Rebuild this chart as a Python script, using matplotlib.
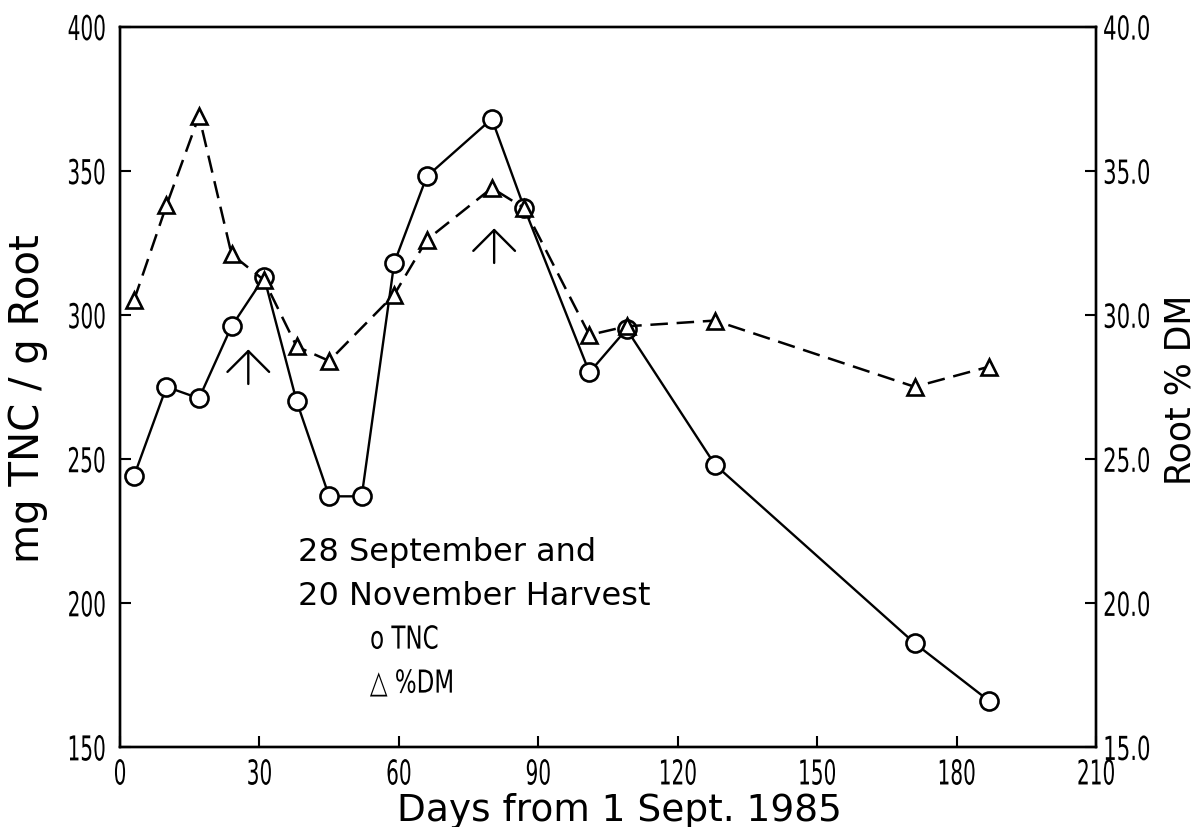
import matplotlib
matplotlib.use("Agg")
import matplotlib.pyplot as plt
from matplotlib.patheffects import AbstractPathEffect
from matplotlib.transforms import Affine2D

# ---- data ----
tnc_days = [3, 10, 17, 24, 31, 38, 45, 52, 59, 66, 80, 87, 101, 109, 128, 171, 187]
tnc_vals = [244, 275, 271, 296, 313, 270, 237, 237, 318, 348, 368, 337, 280, 295, 248, 186, 166]

dm_days = [3, 10, 17, 24, 31, 38, 45, 59, 66, 80, 87, 101, 109, 128, 171, 187]
dm_vals = [30.5, 33.8, 36.9, 32.1, 31.2, 28.9, 28.4, 30.7, 32.6, 34.4, 33.7, 29.3, 29.6, 29.8, 27.5, 28.2]

x_ticks = [0, 30, 60, 90, 120, 150, 180, 210]
left_ticks = [150, 200, 250, 300, 350, 400]
right_ticks = [15, 20, 25, 30, 35, 40]
right_tick_labels = ["15.0", "20.0", "25.0", "30.0", "35.0", "40.0"]

# harvest arrows (day, base value, tip value on TNC scale)
arrow_days = [27.6, 80.5]
arrow_base = [276, 318]
arrow_tip = [288, 330]

title_lines = ["28 September and", "20 November Harvest"]
legend_labels = ["o TNC", "\u25B3 %DM"]


class Squeeze(AbstractPathEffect):
    """Draw text with plotter-style proportions (narrow, tall digits)."""

    def __init__(self, sx=0.6, sy=1.0, anchor="center"):
        super().__init__()
        self.sx = sx
        self.sy = sy
        self.anchor = anchor

    def draw_path(self, renderer, gc, tpath, affine, rgbFace=None):
        ext = tpath.get_extents()
        if self.anchor == "left":
            cx = ext.x0
        elif self.anchor == "right":
            cx = ext.x1
        else:
            cx = 0.5 * (ext.x0 + ext.x1)
        cy = 0.5 * (ext.y0 + ext.y1)
        t = (Affine2D().translate(-cx, -cy).scale(self.sx, self.sy)
             .translate(cx, cy) + affine)
        renderer.draw_path(gc, tpath, t, rgbFace)


fig = plt.figure(figsize=(11.99, 8.28), dpi=100)
ax = fig.add_axes([0.1001, 0.0966, 0.814, 0.870])
ax2 = ax.twinx()

ax.plot(tnc_days, tnc_vals, color="black", lw=1.7, marker="o", ms=13,
        mfc="white", mec="black", mew=1.9, zorder=3)
ax2.plot(dm_days, dm_vals, color="black", lw=1.8, ls=(0, (7, 3.5)), marker="^", ms=12,
         mfc="white", mec="black", mew=1.9, zorder=3)

ax.set_xlim(0, 210)
ax.set_ylim(150, 400)
ax2.set_ylim(15, 40)

tick_fs = 17
ax.set_xticks(x_ticks)
ax.set_xticklabels([str(v) for v in x_ticks], fontsize=tick_fs)
ax.set_yticks(left_ticks)
ax.set_yticklabels([str(v) for v in left_ticks], fontsize=tick_fs)
ax2.set_yticks(right_ticks)
ax2.set_yticklabels(right_tick_labels, fontsize=tick_fs)

for lbl in ax.get_xticklabels():
    lbl.set_path_effects([Squeeze(0.85, 1.45, "center")])
for lbl in ax.get_yticklabels():
    lbl.set_path_effects([Squeeze(0.85, 1.45, "right")])
for lbl in ax2.get_yticklabels():
    lbl.set_path_effects([Squeeze(0.9, 1.4, "left")])

ax.tick_params(axis="both", direction="in", length=8, width=1.5)
ax.tick_params(axis="y", pad=10)
ax.tick_params(axis="x", pad=10.5)
ax2.tick_params(axis="y", direction="in", length=8, width=1.5, pad=5)

for a in (ax, ax2):
    for s in a.spines.values():
        s.set_linewidth(1.7)

ax.set_xlabel("Days from 1 Sept. 1985", fontsize=27)
ax.xaxis.set_label_coords(0.512, -0.062)
ax.set_ylabel("mg TNC / g Root", fontsize=29)
ax.yaxis.set_label_coords(-0.074, 0.485)
ax2.set_ylabel("Root % DM", fontsize=25)
ax2.yaxis.set_label_coords(1.069, 0.497)

for d, b, t in zip(arrow_days, arrow_base, arrow_tip):
    ax.annotate("", xy=(d, t), xytext=(d, b),
                arrowprops=dict(arrowstyle="->,head_width=0.5,head_length=0.5",
                                lw=1.7, color="black", mutation_scale=30,
                                shrinkA=0, shrinkB=0))

ax.text(0.182, 0.272, title_lines[0], transform=ax.transAxes, fontsize=23, va="center")
ax.text(0.182, 0.210, title_lines[1], transform=ax.transAxes, fontsize=23, va="center")
t1 = ax.text(0.256, 0.149, legend_labels[0], transform=ax.transAxes, fontsize=19, va="center")
t2 = ax.text(0.256, 0.0875, legend_labels[1], transform=ax.transAxes, fontsize=19, va="center")
for t in (t1, t2):
    t.set_path_effects([Squeeze(0.87, 1.2, "left")])

fig.savefig("out.png", dpi=100)
